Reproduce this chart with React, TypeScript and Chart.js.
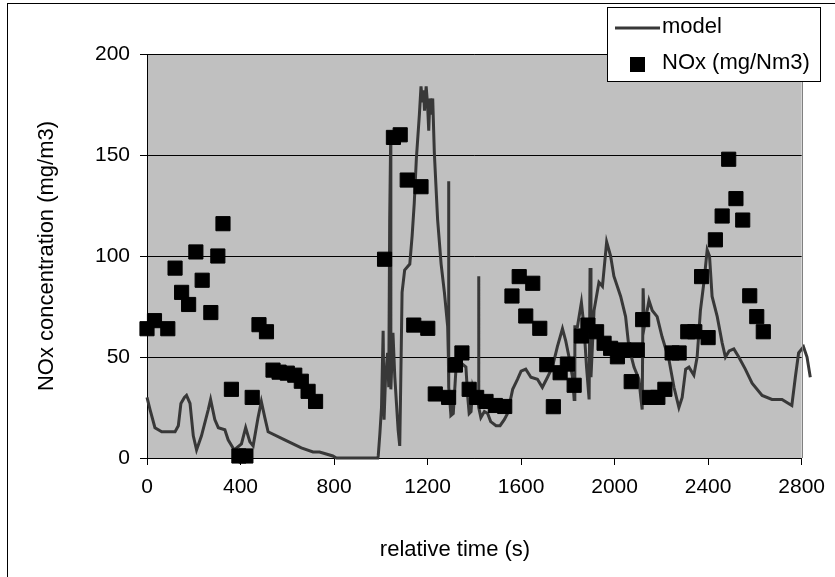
import React, { useEffect, useRef } from "react";
import { Chart, registerables } from "chart.js";

Chart.register(...registerables);

// Model curve: time (s) and concentration
const modelTime = [0, 3, 13, 34, 63, 120, 134, 145, 160, 169, 184, 198, 212, 233, 262, 272, 290, 305, 333, 347, 373, 404, 422, 440, 454, 475, 489, 504, 518, 589, 660, 710, 738, 795, 810, 987, 989, 996, 1003, 1010, 1014, 1020, 1029, 1034, 1038, 1042, 1043, 1052, 1060, 1067, 1074, 1081, 1085, 1091, 1102, 1124, 1134, 1143, 1152, 1165, 1172, 1178, 1183, 1187, 1194, 1200, 1205, 1210, 1216, 1222, 1229, 1243, 1258, 1272, 1286, 1289, 1290, 1291, 1296, 1300, 1310, 1322, 1343, 1364, 1372, 1378, 1386, 1393, 1407, 1416, 1418, 1420, 1428, 1443, 1457, 1470, 1493, 1510, 1528, 1542, 1564, 1585, 1600, 1620, 1642, 1670, 1691, 1713, 1734, 1755, 1777, 1791, 1805, 1820, 1827, 1830, 1841, 1858, 1869, 1880, 1891, 1895, 1899, 1912, 1933, 1948, 1966, 1983, 1997, 2026, 2047, 2061, 2083, 2104, 2112, 2118, 2122, 2127, 2147, 2161, 2182, 2203, 2232, 2254, 2275, 2289, 2304, 2318, 2339, 2353, 2367, 2382, 2396, 2406, 2417, 2439, 2460, 2474, 2490, 2510, 2531, 2559, 2588, 2631, 2673, 2716, 2758, 2773, 2787, 2808, 2823, 2837];
const modelValue = [30, 30, 24, 15, 13, 13, 16, 27, 30, 31, 27, 11, 4, 11, 24, 29, 19, 15, 14, 9, 4, 7, 15, 8, 6, 20, 28, 20, 13, 9, 5, 3, 3, 1, 0, 0, 1, 12, 25, 63, 19, 39, 52, 35, 118, 156, 34, 62, 40, 27, 14, 6, 35, 82, 93, 96, 110, 126, 148, 170, 184, 176, 182, 172, 184, 175, 162, 178, 170, 178, 151, 118, 96, 82, 65, 50, 137, 35, 27, 21, 22, 45, 47, 45, 30, 22, 23, 35, 29, 28, 90, 25, 20, 23, 22, 18, 16, 16, 19, 22, 34, 39, 43, 44, 40, 39, 35, 40, 45, 55, 64, 58, 50, 40, 29, 65, 65, 77, 65, 45, 29, 94, 40, 73, 87, 85, 107, 100, 90, 80, 70, 55, 45, 39, 30, 24, 84, 65, 78, 73, 70, 60, 49, 35, 25, 30, 44, 45, 41, 50, 73, 87, 103, 100, 80, 70, 57, 50, 53, 54, 50, 44, 37, 31, 29, 29, 26, 40, 52, 55, 50, 40];

// Measured NOx: time (s) and concentration
const noxTime = [0, 32, 89, 120, 148, 178, 209, 236, 273, 303, 325, 361, 393, 423, 450, 479, 511, 539, 565, 600, 632, 660, 689, 721, 1016, 1054, 1083, 1113, 1141, 1172, 1201, 1233, 1290, 1319, 1347, 1378, 1410, 1450, 1490, 1530, 1561, 1592, 1620, 1650, 1680, 1710, 1738, 1767, 1798, 1827, 1858, 1886, 1923, 1955, 1983, 2012, 2040, 2071, 2097, 2120, 2150, 2185, 2215, 2246, 2276, 2313, 2343, 2372, 2400, 2431, 2460, 2488, 2519, 2548, 2578, 2608, 2636];
const noxValue = [64, 68, 64, 94, 82, 76, 102, 88, 72, 100, 116, 34, 1, 1, 30, 66, 62.5, 43.5, 42.5, 42, 41, 38, 33, 28, 98.4, 158.7, 160, 137.6, 65.8, 134.3, 64.2, 31.7, 30, 46, 52, 34, 30, 28, 26, 25.5, 80.2, 89.8, 70.3, 86.5, 64.2, 46.2, 25.4, 42.2, 46.5, 36, 60.4, 65.8, 62.5, 56.8, 54.3, 50.1, 53.5, 37.8, 53.5, 68.5, 30, 30, 34, 52, 52, 62.5, 62.5, 89.8, 59.6, 108, 119.8, 147.9, 128.4, 117.8, 80.3, 70, 62.5];

const xTicks = [0, 400, 800, 1200, 1600, 2000, 2400, 2800];
const yTicks = [0, 50, 100, 150, 200];

const seriesLabels = ["model", "NOx (mg/Nm3)"];
const xTitle = "relative time (s)";
const yTitle = "NOx concentration (mg/m3)";

const FONT = "'Liberation Sans', Arial, Helvetica, sans-serif";
const LINE_COLOR = "#383838";

export default function App() {
  const ref = useRef<HTMLCanvasElement | null>(null);

  useEffect(() => {
    if (!ref.current) return;

    const decor = {
      id: "decor",
      beforeDraw(chart: any) {
        const { ctx, chartArea } = chart;
        ctx.save();
        ctx.fillStyle = "#ffffff";
        ctx.fillRect(0, 0, chart.width, chart.height);
        ctx.fillStyle = "#c0c0c0";
        ctx.fillRect(chartArea.left, chartArea.top, chartArea.right - chartArea.left, chartArea.bottom - chartArea.top);
        ctx.restore();
      },
      afterDraw(chart: any) {
        const { ctx, chartArea } = chart;
        ctx.save();
        // right plot border
        ctx.strokeStyle = "#808080";
        ctx.lineWidth = 1;
        ctx.beginPath();
        ctx.moveTo(Math.round(chartArea.right) + 0.5, chartArea.top);
        ctx.lineTo(Math.round(chartArea.right) + 0.5, chartArea.bottom);
        ctx.stroke();
        // outer frame
        ctx.strokeStyle = "#000000";
        ctx.strokeRect(7.5, 3.5, 1000, 800);
        // x title
        ctx.fillStyle = "#000000";
        ctx.font = `22px ${FONT}`;
        ctx.textAlign = "center";
        ctx.textBaseline = "middle";
        ctx.fillText(xTitle, 455, 550);
        // legend
        ctx.fillStyle = "#ffffff";
        ctx.fillRect(607.5, 7.5, 213, 74);
        ctx.strokeStyle = "#000000";
        ctx.strokeRect(607.5, 7.5, 213, 74);
        ctx.strokeStyle = LINE_COLOR;
        ctx.lineWidth = 3;
        ctx.beginPath();
        ctx.moveTo(615, 28);
        ctx.lineTo(660, 28);
        ctx.stroke();
        ctx.fillStyle = "#000000";
        ctx.fillRect(630, 57, 15, 15);
        ctx.textAlign = "left";
        ctx.fillText(chart.data.datasets[0].label, 662, 27);
        ctx.fillText(chart.data.datasets[1].label, 662, 63);
        ctx.restore();
      },
    };

    const chart = new Chart(ref.current, {
      type: "scatter",
      data: {
        datasets: [
          {
            type: "line",
            label: seriesLabels[0],
            data: modelTime.map((t, i) => ({ x: t, y: modelValue[i] })),
            borderColor: LINE_COLOR,
            backgroundColor: LINE_COLOR,
            borderWidth: 3,
            pointRadius: 0,
            tension: 0,
            fill: false,
            clip: false as any,
            order: 2,
          },
          {
            type: "scatter",
            label: seriesLabels[1],
            data: noxTime.map((t, i) => ({ x: t, y: noxValue[i] })),
            pointStyle: "rect",
            pointRadius: 10,
            borderWidth: 1,
            borderColor: "#000000",
            backgroundColor: "#000000",
            clip: false as any,
            order: 1,
          },
        ],
      },
      options: {
        responsive: false,
        animation: false,
        layout: { padding: { top: 54, right: 32, left: 0, bottom: 0 } },
        plugins: {
          legend: { display: false },
          tooltip: { enabled: false },
        },
        scales: {
          x: {
            type: "linear",
            bounds: "data",
            afterDataLimits: (s: any) => { s.min = xTicks[0]; s.max = xTicks[xTicks.length - 1]; },
            afterFit: (s: any) => { s.height = 119; },
            afterBuildTicks: (s: any) => {
              s.min = xTicks[0];
              s.max = xTicks[xTicks.length - 1];
              s.ticks = xTicks.map((v) => ({ value: v }));
            },
            grid: { drawOnChartArea: false, drawTicks: true, tickLength: 7, color: "#000000", lineWidth: 1 },
            border: { color: "#000000", width: 1 },
            ticks: {
              color: "#000000",
              font: { family: FONT, size: 21 },
              padding: 10,
              maxRotation: 0,
              autoSkip: false,
              callback: (v: any) => String(v),
            },
          },
          y: {
            type: "linear",
            min: yTicks[0],
            max: yTicks[yTicks.length - 1],
            afterFit: (s: any) => { s.width = 147; },
            afterBuildTicks: (s: any) => { s.ticks = yTicks.map((v) => ({ value: v })); },
            grid: { drawOnChartArea: true, drawTicks: true, tickLength: 7, color: "#000000", lineWidth: 1 },
            border: { color: "#000000", width: 1 },
            ticks: { color: "#000000", font: { family: FONT, size: 21 }, padding: 10, callback: (v: any) => String(v) },
            title: {
              display: true,
              text: yTitle,
              color: "#000000",
              font: { family: FONT, size: 22 },
              padding: { top: 34, bottom: 0 },
            },
          },
        },
      },
      plugins: [decor],
    } as any);

    return () => chart.destroy();
  }, []);

  return (
    <div style={{ position: "absolute", left: 0, top: 0, width: 835, height: 577, background: "#fff" }}>
      <canvas ref={ref} width={835} height={577} style={{ display: "block" }} />
    </div>
  );
}
